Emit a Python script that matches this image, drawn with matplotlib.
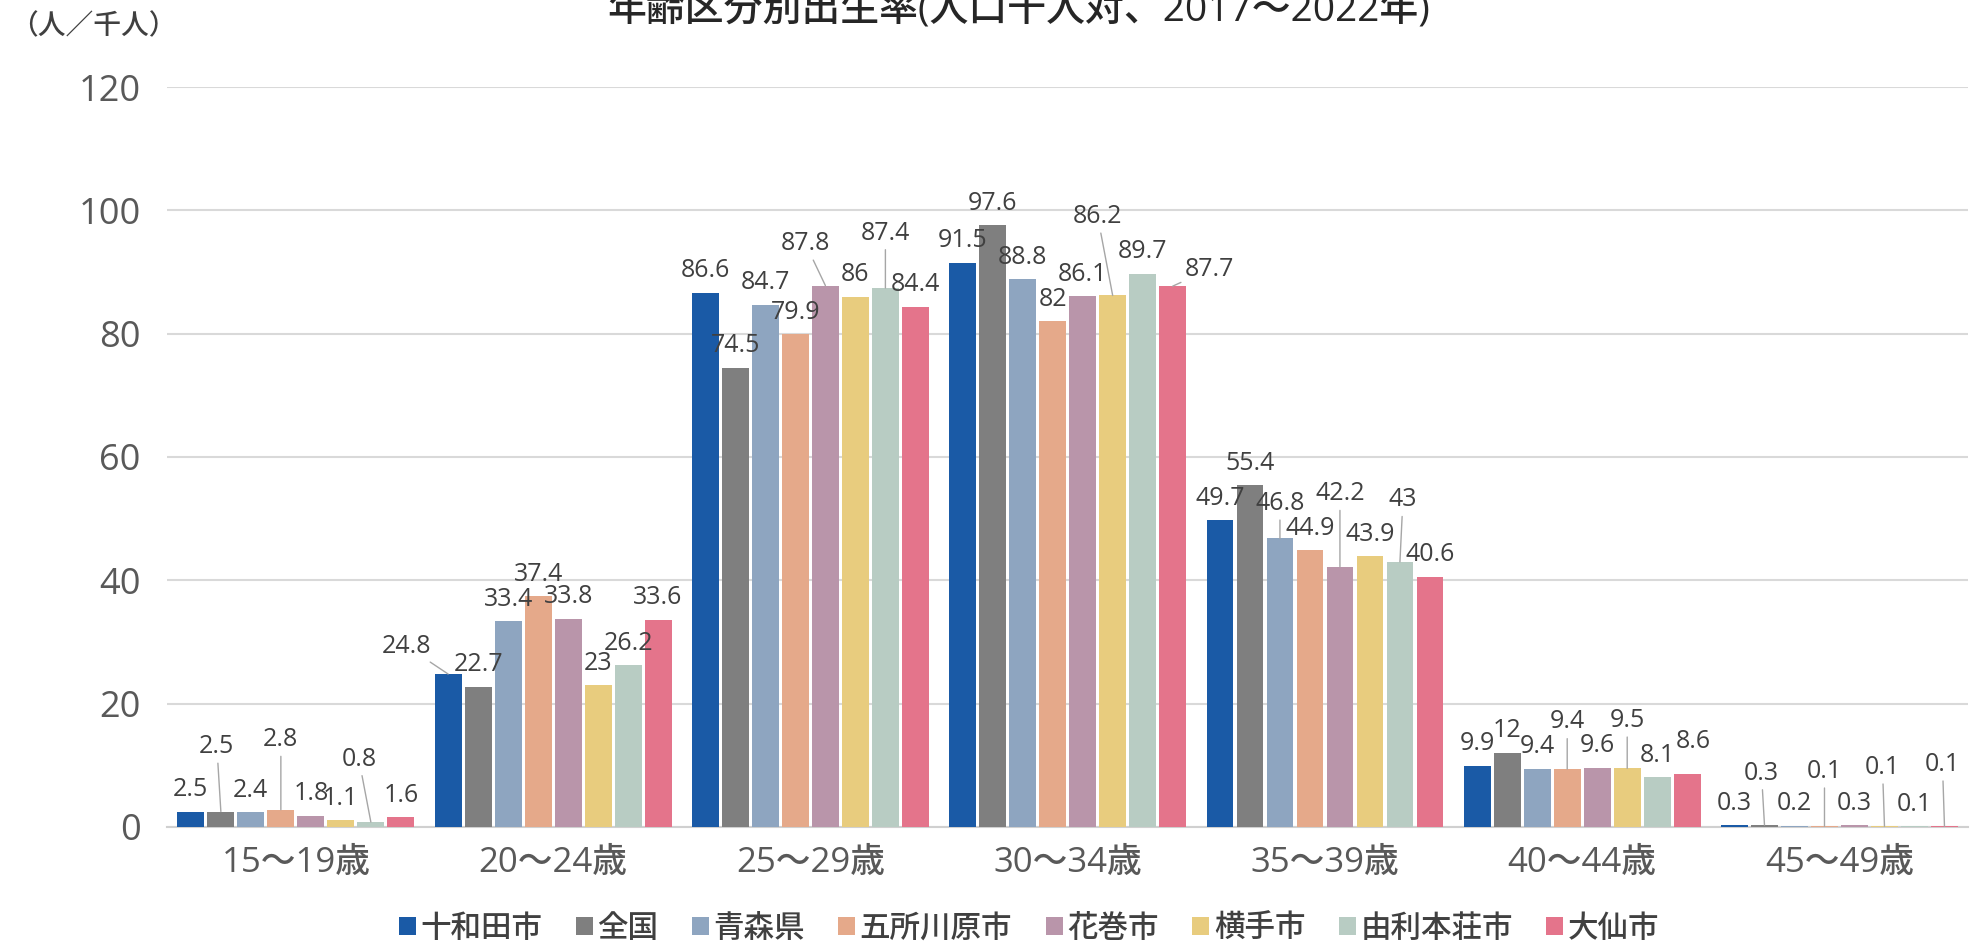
import matplotlib
matplotlib.use("Agg")
import matplotlib.pyplot as plt
from matplotlib.patches import Patch
import numpy as np

# digits in Open Sans, Japanese falls through to Noto Sans CJK JP
plt.rcParams['font.family'] = ['Open Sans', 'Noto Sans CJK JP', 'DejaVu Sans']
plt.rcParams['font.weight'] = 'medium'

# data
age_groups = ["15～19歳", "20～24歳", "25～29歳", "30～34歳", "35～39歳", "40～44歳", "45～49歳"]
areas = ["十和田市", "全国", "青森県", "五所川原市", "花巻市", "横手市", "由利本荘市", "大仙市"]
towada = [2.5, 24.8, 86.6, 91.5, 49.7, 9.9, 0.3]
zenkoku = [2.5, 22.7, 74.5, 97.6, 55.4, 12, 0.3]
aomori = [2.4, 33.4, 84.7, 88.8, 46.8, 9.4, 0.2]
goshogawara = [2.8, 37.4, 79.9, 82, 44.9, 9.4, 0.1]
hanamaki = [1.8, 33.8, 87.8, 86.1, 42.2, 9.6, 0.3]
yokote = [1.1, 23, 86, 86.2, 43.9, 9.5, 0.1]
yurihonjo = [0.8, 26.2, 87.4, 89.7, 43, 8.1, 0.1]
daisen = [1.6, 33.6, 84.4, 87.7, 40.6, 8.6, 0.1]
series = [towada, zenkoku, aomori, goshogawara, hanamaki, yokote, yurihonjo, daisen]

colors = ["#1a5aa6", "#7f7f7f", "#8ea5c0", "#e5a98a", "#b995aa", "#e8cc7e", "#b8ccc3", "#e4748b"]

# label shifts in pixels (dx, dy) for the labels that were moved off their bars
label_shift = {
    (0, 1): (-4, 43), (0, 3): (0, 48), (0, 6): (-12, 41),
    (1, 0): (-42, 6),
    (2, 4): (-20, 20), (2, 6): (0, 33),
    (3, 5): (-15, 57), (3, 7): (37, -5),
    (4, 2): (0, 13), (4, 4): (0, 51), (4, 6): (3, 40),
    (5, 3): (0, 25), (5, 5): (0, 26), (5, 7): (6, 10),
    (6, 1): (-3, 30), (6, 3): (0, 33), (6, 5): (-2, 37), (6, 7): (-2, 40),
}

fig = plt.figure(figsize=(19.79, 9.44), dpi=100)
ax = fig.add_axes([0.0845, 0.124, 0.91, 0.7838])

x = np.arange(len(age_groups))
pitch = 0.1166
width = 0.104
for j, vals in enumerate(series):
    xs = x + (j - 3.5) * pitch
    ax.bar(xs, vals, width=width, color=colors[j], zorder=3)
    for i, v in enumerate(vals):
        dx, dy = label_shift.get((i, j), (0, 0))
        arrow = None
        if dy >= 12 or abs(dx) >= 12:
            arrow = dict(arrowstyle='-', color='#a6a6a6', lw=1.0, shrinkA=1, shrinkB=0)
        ax.annotate(f"{v:g}", xy=(xs[i], v), xytext=(dx, 22 + dy), textcoords='offset pixels',
                    ha='center', va='center', fontsize=18, color='#404040',
                    arrowprops=arrow, zorder=5)

ax.set_xlim(-0.5, len(age_groups) - 0.5)
ax.set_ylim(0, 120)
ax.set_yticks(range(0, 121, 20))
ax.set_xticks(x)
ax.set_xticklabels(age_groups)
ax.tick_params(axis='y', length=0, pad=19, labelsize=26, labelcolor='#595959')
ax.tick_params(axis='x', length=0, pad=14, labelsize=25, labelcolor='#595959')
ax.grid(axis='y', color='#d9d9d9', lw=1.5, zorder=0)
for s in ['top', 'right', 'left']:
    ax.spines[s].set_visible(False)
ax.spines['bottom'].set_color('#d0d0d0')
ax.spines['bottom'].set_linewidth(1.5)

handles = [Patch(facecolor=c, label=a) for c, a in zip(colors, areas)]
fig.legend(handles=handles, loc='center', bbox_to_anchor=(0.52, 0.016), ncol=8, frameon=False,
           fontsize=22, handlelength=0.55, handleheight=0.55, handletextpad=0.15,
           columnspacing=1.1, labelcolor='#404040')

fig.text(0.515, 1 - 20 / 944, "年齢区分別出生率(人口千人対、2017～2022年)", ha='center', va='baseline',
         fontsize=28, color='#262626')
fig.text(0.005, 1 - 27 / 944, "（人／千人）", ha='left', va='center', fontsize=20, color='#404040')

fig.savefig("out.png", dpi=100)
